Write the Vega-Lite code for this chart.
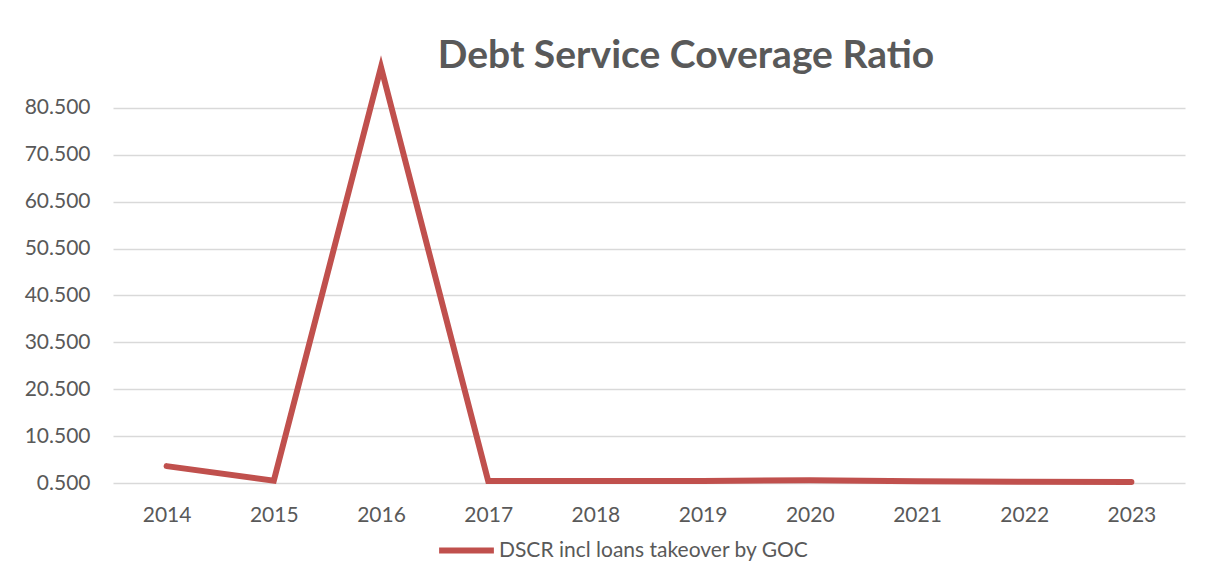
{
  "$schema": "https://vega.github.io/schema/vega-lite/v6.json",
  "width": 1072,
  "height": 422,
  "autosize": {"type": "none"},
  "padding": {"left": 113, "top": 61, "right": 41, "bottom": 80},
  "background": "white",
  "title": {
    "text": "Debt Service Coverage Ratio",
    "font": "Lato",
    "fontSize": 39,
    "fontWeight": "bold",
    "color": "#595959",
    "anchor": "middle",
    "dx": 37,
    "offset": -21
  },
  "data": {
    "values": [
      {"year": "2014", "value": 4.1, "series": "DSCR incl loans takeover by GOC"},
      {"year": "2015", "value": 1.0, "series": "DSCR incl loans takeover by GOC"},
      {"year": "2016", "value": 89.2, "series": "DSCR incl loans takeover by GOC"},
      {"year": "2017", "value": 0.9, "series": "DSCR incl loans takeover by GOC"},
      {"year": "2018", "value": 0.9, "series": "DSCR incl loans takeover by GOC"},
      {"year": "2019", "value": 0.95, "series": "DSCR incl loans takeover by GOC"},
      {"year": "2020", "value": 1.1, "series": "DSCR incl loans takeover by GOC"},
      {"year": "2021", "value": 0.85, "series": "DSCR incl loans takeover by GOC"},
      {"year": "2022", "value": 0.75, "series": "DSCR incl loans takeover by GOC"},
      {"year": "2023", "value": 0.7, "series": "DSCR incl loans takeover by GOC"}
    ]
  },
  "mark": {"type": "line", "strokeWidth": 6, "strokeCap": "round", "strokeJoin": "miter", "clip": false},
  "encoding": {
    "x": {
      "field": "year",
      "type": "ordinal",
      "scale": {"type": "point", "padding": 0.5},
      "axis": {
        "title": null,
        "labelAngle": 0,
        "labelFont": "Lato",
        "labelFontSize": 21,
        "labelColor": "#595959",
        "labelPadding": 21,
        "ticks": false,
        "domain": false,
        "grid": false
      }
    },
    "y": {
      "field": "value",
      "type": "quantitative",
      "scale": {"domain": [0.5, 90.5], "nice": false, "zero": false},
      "axis": {
        "title": null,
        "values": [0.5, 10.5, 20.5, 30.5, 40.5, 50.5, 60.5, 70.5, 80.5],
        "format": ".3f",
        "labelFont": "Lato",
        "labelFontSize": 21,
        "labelColor": "#595959",
        "labelPadding": 23,
        "ticks": false,
        "domain": false,
        "grid": true,
        "gridColor": "#D9D9D9",
        "gridWidth": 1.5
      }
    },
    "color": {
      "field": "series",
      "type": "nominal",
      "scale": {"range": ["#C0504D"]},
      "legend": {
        "title": null,
        "orient": "none",
        "legendX": 323,
        "legendY": 459,
        "symbolType": "stroke",
        "symbolStrokeWidth": 6,
        "symbolSize": 3000,
        "labelFont": "Lato",
        "labelFontSize": 21,
        "labelColor": "#595959",
        "labelOffset": 2,
        "labelLimit": 600
      }
    }
  },
  "config": {"view": {"stroke": null}}
}
